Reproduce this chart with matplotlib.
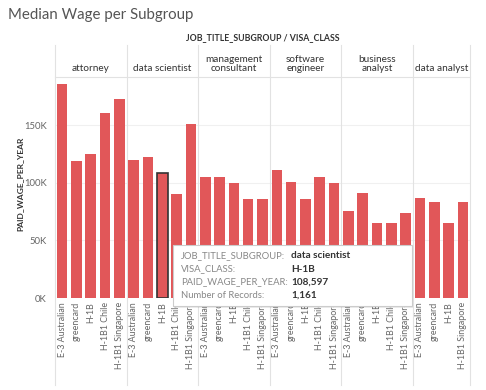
import matplotlib
matplotlib.use("Agg")
import matplotlib.pyplot as plt
from matplotlib.patches import Rectangle
import matplotlib.transforms as mtransforms

plt.rcParams['font.family'] = ['Lato', 'DejaVu Sans']

# ---- data ----
groups = ["attorney", "data scientist", "management\nconsultant",
          "software\nengineer", "business\nanalyst", "data analyst"]
visa_classes = [
    ["E-3 Australian", "greencard", "H-1B", "H-1B1 Chile", "H-1B1 Singapore"],
    ["E-3 Australian", "greencard", "H-1B", "H-1B1 Chile", "H-1B1 Singapore"],
    ["E-3 Australian", "greencard", "H-1B", "H-1B1 Chile", "H-1B1 Singapore"],
    ["E-3 Australian", "greencard", "H-1B", "H-1B1 Chile", "H-1B1 Singapore"],
    ["E-3 Australian", "greencard", "H-1B", "H-1B1 Chile", "H-1B1 Singapore"],
    ["E-3 Australian", "greencard", "H-1B", "H-1B1 Singapore"],
]
wages = [
    [186000, 119400, 125200, 161000, 173300],
    [120000, 122300, 108597, 90400, 151300],
    [105500, 105000, 100300, 85800, 85800],
    [111300, 101100, 86300, 105500, 100300],
    [75400, 91600, 65500, 65000, 74200],
    [86700, 83500, 65500, 83500],
]
yticks = [0, 50000, 100000, 150000]
ytick_labels = ["0K", "50K", "100K", "150K"]
selected = (1, 2)  # data scientist / H-1B
selected_records = 1161

W, H = 486, 390
fig = plt.figure(figsize=(W / 100, H / 100), dpi=100)

def fx(px):
    return px / W

def fy(py):
    return 1 - py / H

x_left, x_right, y_top, y_bot = 55, 470, 77, 298
ax = fig.add_axes([fx(x_left), fy(y_bot), fx(x_right) - fx(x_left), fy(y_top) - fy(y_bot)])

bar_color = "#e15759"
xs, heights, labels, edges, lws = [], [], [], [], []
bounds = [-0.5]
i = 0
for g, (vcs, ws) in enumerate(zip(visa_classes, wages)):
    for k, (vc, w) in enumerate(zip(vcs, ws)):
        xs.append(i)
        heights.append(w)
        labels.append(vc)
        if (g, k) == selected:
            edges.append("#333333"); lws.append(1.2)
        else:
            edges.append(bar_color); lws.append(0)
        i += 1
    bounds.append(i - 0.5)

ax.bar(xs, heights, width=0.74, color=bar_color, edgecolor=edges, linewidth=lws, zorder=3)
ax.set_xlim(-0.5, i - 0.5)
ax.set_ylim(0, 192000)

for s in ax.spines.values():
    s.set_visible(False)

ax.set_yticks(yticks)
ax.set_yticklabels(ytick_labels)
ax.set_xticks(xs)
ax.set_xticklabels(labels, rotation=90, va="top", ha="center")
ax.tick_params(axis="both", length=0, labelsize=6.4, labelcolor="#666666")
ax.tick_params(axis="x", pad=3)
ax.tick_params(axis="y", pad=6)
for t in ax.get_yticklabels():
    t.set_fontsize(6.8)

for yv in yticks[1:]:
    ax.axhline(yv, color="#f0f0f0", lw=0.8, zorder=1)

# dividers (x in data, y in axes coords)
trans = mtransforms.blended_transform_factory(ax.transData, ax.transAxes)
ya_bot = (y_bot - 385) / (y_bot - y_top)
ya_top = (y_bot - 45) / (y_bot - y_top)
for b in bounds:
    ax.plot([b, b], [ya_bot, ya_top], transform=trans, color="#e2e2e2", lw=0.8,
            clip_on=False, zorder=2)
ax.plot([-0.5, i - 0.5], [1, 1], transform=trans, color="#e2e2e2", lw=0.8,
        clip_on=False, zorder=2)

# group headers
for g, name in enumerate(groups):
    cx = (bounds[g] + bounds[g + 1]) / 2
    ax.text(cx, (y_bot - 73) / (y_bot - y_top), name, transform=trans, ha="center",
            va="bottom", fontsize=7.2, color="#333333", linespacing=1.05)

fig.text(fx(262.5), fy(38), "JOB_TITLE_SUBGROUP / VISA_CLASS", ha="center", va="center",
         fontsize=6.3, fontweight="bold", color="#333333")
fig.text(fx(8), fy(15), "Median Wage per Subgroup", ha="left", va="center",
         fontsize=10.8, color="#555555")
fig.text(fx(20), fy(184), "PAID_WAGE_PER_YEAR", ha="center", va="center", rotation=90,
         fontsize=6.1, fontweight="bold", color="#333333")

# tooltip
tx0, ty0, tx1, ty1 = 173, 245, 412, 306
fig.add_artist(Rectangle((fx(tx0) + 0.003, fy(ty1) - 0.004), fx(tx1) - fx(tx0), fy(ty0) - fy(ty1),
                         transform=fig.transFigure, facecolor="#000000", alpha=0.08,
                         edgecolor="none", zorder=9))
fig.add_artist(Rectangle((fx(tx0), fy(ty1)), fx(tx1) - fx(tx0), fy(ty0) - fy(ty1),
                         transform=fig.transFigure, facecolor="white", edgecolor="#cccccc",
                         lw=0.8, zorder=10))
sg, sk = selected
tip_rows = [
    ("JOB_TITLE_SUBGROUP:", groups[sg].replace("\n", " ")),
    ("VISA_CLASS:", visa_classes[sg][sk]),
    ("PAID_WAGE_PER_YEAR:", f"{wages[sg][sk]:,}"),
    ("Number of Records:", f"{selected_records:,}"),
]
for r, (lab, val) in enumerate(tip_rows):
    yy = 256 + r * 13
    fig.text(fx(181), fy(yy), lab, ha="left", va="center", fontsize=6.8, color="#888888", zorder=11)
    fig.text(fx(291), fy(yy), val, ha="left", va="center", fontsize=7.2, color="#333333",
             fontweight="bold", zorder=11)

fig.savefig("out.png", dpi=100, facecolor="white")
